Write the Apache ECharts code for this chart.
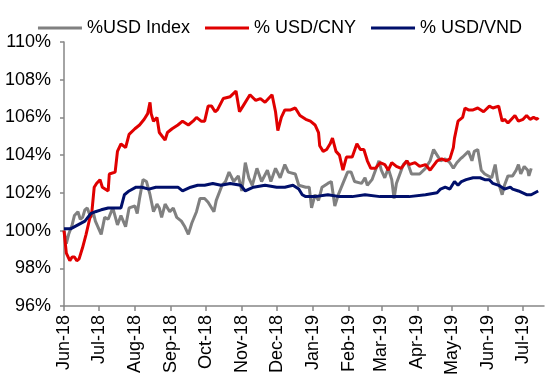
<!DOCTYPE html>
<html>
<head>
<meta charset="utf-8">
<script src="https://cdn.jsdelivr.net/npm/echarts@6/dist/echarts.min.js"></script>
<style>
  html, body { margin: 0; padding: 0; background: #fff; }
  #chart { width: 560px; height: 378px; }
</style>
</head>
<body>
<div id="chart"></div>
<script>
// ---- Data ----
const seriesNames = ['%USD Index', '% USD/CNY', '% USD/VND'];
const monthNames = ['Jan','Feb','Mar','Apr','May','Jun','Jul','Aug','Sep','Oct','Nov','Dec'];
const yTicks = [96, 98, 100, 102, 104, 106, 108, 110];

const usdDates = [
  '2018-06-01','2018-06-03','2018-06-05','2018-06-08','2018-06-10','2018-06-13','2018-06-15','2018-06-17','2018-06-19','2018-06-21','2018-06-24','2018-06-26','2018-06-28',
  '2018-07-03','2018-07-06','2018-07-09','2018-07-13','2018-07-17','2018-07-20','2018-07-22','2018-07-24','2018-07-27',
  '2018-08-01','2018-08-03','2018-08-05','2018-08-08','2018-08-11','2018-08-14','2018-08-17','2018-08-20','2018-08-22','2018-08-24','2018-08-27','2018-08-31',
  '2018-09-03','2018-09-06','2018-09-10','2018-09-13','2018-09-16','2018-09-19','2018-09-23','2018-09-26','2018-09-30',
  '2018-10-03','2018-10-08','2018-10-10','2018-10-15','2018-10-18','2018-10-21','2018-10-25','2018-10-29',
  '2018-11-01','2018-11-04','2018-11-07','2018-11-10','2018-11-14','2018-11-18','2018-11-23','2018-11-26','2018-11-30',
  '2018-12-04','2018-12-08','2018-12-11','2018-12-17','2018-12-20','2018-12-26','2018-12-29','2018-12-31',
  '2019-01-03','2019-01-06','2019-01-09','2019-01-14','2019-01-17','2019-01-20','2019-01-23','2019-01-27','2019-01-31',
  '2019-02-03','2019-02-06','2019-02-12','2019-02-15','2019-02-17','2019-02-21','2019-02-24','2019-02-27',
  '2019-03-01','2019-03-04','2019-03-07','2019-03-10','2019-03-12','2019-03-14','2019-03-17','2019-03-20','2019-03-23','2019-03-27',
  '2019-04-03','2019-04-08','2019-04-12','2019-04-15','2019-04-18','2019-04-21','2019-04-25','2019-04-29',
  '2019-05-02','2019-05-05','2019-05-08','2019-05-10','2019-05-15','2019-05-18','2019-05-20','2019-05-23','2019-05-26','2019-05-29',
  '2019-06-04','2019-06-07','2019-06-09','2019-06-13','2019-06-15','2019-06-18','2019-06-22','2019-06-25','2019-06-27','2019-06-29',
  '2019-07-02','2019-07-05','2019-07-06','2019-07-08'
];
const usdValues = [
  100.0,99.3,99.8,100.3,100.8,101.0,100.6,100.7,101.1,101.2,100.7,101.0,100.5,
  99.8,100.7,100.6,101.2,100.3,100.8,100.5,100.2,101.2,
  101.3,100.9,101.7,102.7,102.6,101.9,101.0,101.4,101.2,100.7,101.4,101.0,
  101.2,100.7,100.5,100.2,99.8,100.4,101.0,101.7,101.7,
  101.5,101.0,101.6,102.4,102.6,103.1,102.6,102.9,
  102.1,103.6,102.8,102.4,103.3,102.6,103.2,102.6,103.3,
  102.8,103.5,103.1,103.0,102.4,102.3,102.3,101.2,
  101.9,101.6,102.3,102.5,102.6,101.3,101.9,102.5,103.1,
  103.1,102.6,102.5,102.8,102.4,102.7,103.2,103.7,
  103.2,102.8,103.3,102.7,101.7,102.5,103.0,103.5,103.7,103.0,
  103.0,103.3,103.7,104.3,104.0,103.7,103.8,103.6,
  103.3,103.6,103.8,103.9,104.2,103.7,104.2,104.3,103.2,103.0,
  102.8,103.5,102.7,101.9,102.4,102.9,102.9,103.2,103.5,103.0,
  103.4,103.2,102.9,103.3
];

const cnyDates = [
  '2018-06-01','2018-06-03','2018-06-06','2018-06-08','2018-06-10','2018-06-12','2018-06-14','2018-06-17','2018-06-20','2018-06-23','2018-06-25','2018-06-27','2018-06-29',
  '2018-07-02','2018-07-04','2018-07-09','2018-07-10','2018-07-15','2018-07-17','2018-07-20','2018-07-24','2018-07-27',
  '2018-08-01','2018-08-05','2018-08-09','2018-08-12','2018-08-14','2018-08-15','2018-08-17','2018-08-20','2018-08-22','2018-08-27','2018-08-29',
  '2018-09-02','2018-09-07','2018-09-11','2018-09-16','2018-09-20','2018-09-23','2018-09-27','2018-09-30',
  '2018-10-03','2018-10-06','2018-10-09','2018-10-11','2018-10-16','2018-10-22','2018-10-27','2018-10-30',
  '2018-11-02','2018-11-08','2018-11-13','2018-11-17','2018-11-21','2018-11-27','2018-11-30',
  '2018-12-02','2018-12-05','2018-12-08','2018-12-13','2018-12-17','2018-12-21','2018-12-26','2018-12-30',
  '2019-01-03','2019-01-06','2019-01-07','2019-01-10','2019-01-13','2019-01-16','2019-01-18','2019-01-21','2019-01-24','2019-01-27','2019-01-30',
  '2019-02-04','2019-02-08','2019-02-11','2019-02-14','2019-02-17','2019-02-20','2019-02-24','2019-02-28',
  '2019-03-04','2019-03-07','2019-03-10','2019-03-14','2019-03-18','2019-03-23','2019-03-25','2019-03-30',
  '2019-04-03','2019-04-08','2019-04-12','2019-04-18','2019-04-22','2019-04-26','2019-04-29',
  '2019-05-02','2019-05-03','2019-05-06','2019-05-10','2019-05-12','2019-05-15','2019-05-19','2019-05-23','2019-05-28',
  '2019-06-02','2019-06-05','2019-06-10','2019-06-13','2019-06-15','2019-06-18','2019-06-21','2019-06-24','2019-06-27',
  '2019-07-01','2019-07-04','2019-07-07','2019-07-10','2019-07-13','2019-07-14'
];
const cnyValues = [
  100.0,98.8,98.4,98.6,98.6,98.4,98.5,99.1,99.8,100.6,101.0,102.3,102.5,
  102.7,102.3,102.1,103.0,103.1,104.2,104.6,104.4,105.1,
  105.4,105.6,105.9,106.2,106.8,106.2,105.8,106.0,105.2,104.8,105.2,
  105.4,105.6,105.8,105.6,105.8,106.0,105.8,105.8,
  106.6,106.6,106.3,106.4,107.0,107.1,107.4,106.3,
  106.6,107.2,106.9,107.0,106.8,107.2,106.3,
  105.3,106.0,106.4,106.4,106.5,106.1,105.9,105.8,
  105.6,105.2,104.5,104.2,104.3,104.6,104.9,104.2,104.0,103.2,103.9,
  103.9,104.6,104.3,104.3,103.7,103.3,103.3,103.6,
  103.5,103.2,103.6,103.4,103.3,103.7,103.5,103.6,
  103.4,103.5,103.2,103.7,103.8,103.7,103.8,
  104.4,104.9,105.8,106.0,106.5,106.4,106.4,106.5,106.3,
  106.6,106.5,106.6,105.8,105.9,105.7,105.9,106.1,105.8,
  105.9,106.1,105.9,106.0,105.9,106.0
];

const vndDates = [
  '2018-06-01','2018-06-07','2018-06-13','2018-06-19','2018-06-24','2018-06-28',
  '2018-07-03','2018-07-09','2018-07-17','2018-07-20','2018-07-23','2018-07-27',
  '2018-08-02','2018-08-07','2018-08-13','2018-08-19','2018-08-27',
  '2018-09-01','2018-09-07','2018-09-11','2018-09-18','2018-09-24','2018-09-30',
  '2018-10-07','2018-10-14','2018-10-22','2018-10-31',
  '2018-11-04','2018-11-11','2018-11-21',
  '2018-12-01','2018-12-08','2018-12-15','2018-12-20','2018-12-23','2018-12-26',
  '2019-01-03','2019-01-14','2019-01-24',
  '2019-02-04','2019-02-15','2019-02-28',
  '2019-03-13','2019-03-25',
  '2019-04-08','2019-04-18','2019-04-21','2019-04-25','2019-04-29',
  '2019-05-03','2019-05-06','2019-05-09','2019-05-13','2019-05-19','2019-05-25','2019-05-29',
  '2019-06-02','2019-06-05','2019-06-10','2019-06-15','2019-06-20','2019-06-22','2019-06-27',
  '2019-07-04','2019-07-08','2019-07-14'
];
const vndValues = [
  100.1,100.1,100.3,100.5,100.9,101.0,
  101.1,101.2,101.2,101.2,101.9,102.1,
  102.3,102.3,102.2,102.3,102.3,
  102.3,102.3,102.1,102.3,102.4,102.4,
  102.5,102.4,102.5,102.4,
  102.1,102.3,102.4,
  102.3,102.3,102.4,102.2,101.9,101.8,
  101.8,101.9,101.8,
  101.8,101.9,101.8,
  101.8,101.8,
  101.9,102.0,102.2,102.3,102.2,
  102.6,102.4,102.6,102.7,102.8,102.8,102.7,
  102.7,102.5,102.4,102.2,102.3,102.2,102.1,
  101.9,101.9,102.1
];

const seriesColors = ['#808080', '#e00000', '#000f6b'];

// ---- Chart ----
const chart = echarts.init(document.getElementById('chart'), null, { renderer: 'canvas' });
const font = "'Liberation Sans', Arial, sans-serif";
const axisGray = '#868686';
const pairs = (d, v) => d.map((x, i) => [x, v[i]]);

chart.setOption({
  animation: false,
  backgroundColor: '#fff',
  textStyle: { fontFamily: font },
  legend: {
    top: 14,
    left: 'center',
    icon: 'rect',
    itemWidth: 44,
    itemHeight: 3,
    itemGap: 15,
    textStyle: { fontSize: 18, color: '#000', fontFamily: font },
    data: seriesNames
  },
  grid: { left: 64, right: 16, top: 42, bottom: 71 },
  xAxis: {
    type: 'time',
    min: '2018-06-01',
    max: '2019-07-19',
    splitNumber: 14,
    minInterval: 28 * 24 * 3600 * 1000,
    maxInterval: 31 * 24 * 3600 * 1000,
    axisLine: { show: true, lineStyle: { color: axisGray, width: 1.5 } },
    axisTick: { show: true, length: 5, lineStyle: { color: axisGray, width: 1.5 } },
    splitLine: { show: false },
    axisLabel: {
      rotate: 90,
      fontSize: 18,
      color: '#000',
      fontFamily: font,
      margin: 9,
      hideOverlap: false,
      formatter: function (val) {
        const d = new Date(val);
        return monthNames[d.getMonth()] + '-' + String(d.getFullYear()).slice(2);
      }
    }
  },
  yAxis: {
    type: 'value',
    min: yTicks[0],
    max: yTicks[yTicks.length - 1],
    interval: 2,
    axisLine: { show: true, lineStyle: { color: axisGray, width: 1.5 } },
    axisTick: { show: true, length: 4, lineStyle: { color: axisGray, width: 1.5 } },
    splitLine: { show: false },
    axisLabel: {
      fontSize: 18,
      color: '#000',
      fontFamily: font,
      margin: 13,
      formatter: '{value}%'
    }
  },
  series: [
    { name: seriesNames[0], type: 'line', data: pairs(usdDates, usdValues), symbol: 'none', showSymbol: false,
      lineStyle: { color: seriesColors[0], width: 3 }, itemStyle: { color: seriesColors[0] } },
    { name: seriesNames[1], type: 'line', data: pairs(cnyDates, cnyValues), symbol: 'none', showSymbol: false,
      lineStyle: { color: seriesColors[1], width: 3 }, itemStyle: { color: seriesColors[1] } },
    { name: seriesNames[2], type: 'line', data: pairs(vndDates, vndValues), symbol: 'none', showSymbol: false,
      lineStyle: { color: seriesColors[2], width: 3 }, itemStyle: { color: seriesColors[2] } }
  ]
});
</script>
</body>
</html>
